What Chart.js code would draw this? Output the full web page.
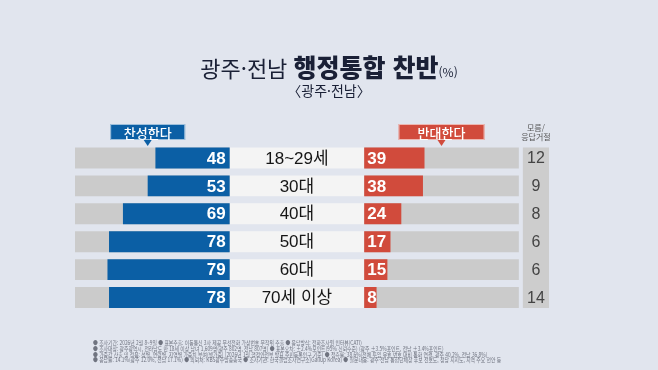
<!DOCTYPE html>
<html lang="ko">
<head>
<meta charset="UTF-8">
<title>광주·전남 행정통합 찬반</title>
<script src="https://cdn.jsdelivr.net/npm/chart.js"></script>
<style>
    body { margin: 0; background: #e1e5ee; font-family: "Noto Sans CJK KR", sans-serif; }
    #wrap { position: relative; width: 658px; height: 370px; overflow: hidden; }
    #chart { position: absolute; left: 0; top: 0; }

    /* 제목 */
    .title { position: absolute; left: 0; top: 53px; width: 658px; text-align: center;
             color: #1a2036; font-size: 22px; line-height: 26px; white-space: nowrap; }
    .title b { font-size: 25px; font-weight: 900; }
    .title small { font-size: 12px; }
    .sub { position: absolute; left: 0; top: 82px; width: 658px; text-align: center;
           color: #1a2036; font-size: 14px; line-height: 16px; }

    /* 하단 조사개요 */
    .note { position: absolute; left: 93px; top: 340px; color: #707480;
            font-size: 5.8px; line-height: 5.8px; white-space: nowrap;
            transform: scaleX(0.83); transform-origin: left top; }
</style>
</head>
<body>
<div id="wrap">
    <canvas id="chart" width="658" height="370"></canvas>
    <div class="title">광주·전남 <b>행정통합 찬반</b><small>(%)</small></div>
    <div class="sub">〈광주·전남〉</div>
    <div class="note">
        ● 조사기간: 2026년 2월 8~9일 ● 표본추출: 이동통신 3사 제공 무선전화 가상번호 무작위 추출 ● 응답방식: 전화조사원 인터뷰(CATI)<br>
        ● 조사대상: 광주광역시, 전라남도 만 18세 이상 남녀 1,609명(광주 802명, 전남 807명) ● 표본오차: ±2.4%포인트(95% 신뢰수준) (광주 ±3.5%포인트, 전남 ±3.4%포인트)<br>
        ● 가중값 산출 및 적용: 성별, 연령별, 지역별 가중치 부여(셀가중) (2026년 1월 행정안전부 발표 주민등록인구 기준) ● 접촉률: 38.6%(전체 투입 유효 번호 대비 통화 연결, 광주 40.2%, 전남 36.8%)<br>
        ● 응답률: 14.1%(광주 12.0%, 전남 17.1%) ● 의뢰처: KBS광주방송총국 ● 조사기관: 한국갤럽조사연구소(Gallup Korea) ● 질문내용: 광주·전남 통합단체장 후보 선호도, 정당 지지도, 지역 주요 현안 등
    </div>
</div>

<script>
    // 데이터
    const ageGroups = ['18~29세', '30대', '40대', '50대', '60대', '70세 이상'];
    const favor = [48, 53, 69, 78, 79, 78];     // 찬성한다
    const oppose = [39, 38, 24, 17, 15, 8];     // 반대한다
    const unsure = [12, 9, 8, 6, 6, 14];        // 모름/응답거절

    const FULL = 100;   // 막대 트랙 길이 (100%)
    const MID = 87;     // 가운데 연령 라벨 칸 폭 (축 단위)
    const COL0 = FULL + MID + 2.6, COL1 = FULL + MID + 19.5;  // 모름 칸

    const BLUE = '#0b5fa5', RED = '#d14b3c', TRACK = '#cbcbcb';
    const NUM_FONT = '"Liberation Sans", Arial, sans-serif';
    const KR_FONT = '"Noto Sans CJK KR", sans-serif';

    // 라벨, 모름 칸, 범례 박스 그리기
    const overlay = {
        id: 'overlay',
        beforeDatasetsDraw(chart) {
            const ctx = chart.ctx, x = chart.scales.x;
            const bars = chart.getDatasetMeta(0).data;
            const first = bars[0], last = bars[bars.length - 1];
            const top = first.y - first.height / 2, bottom = last.y + last.height / 2;
            ctx.save();
            ctx.fillStyle = '#cdcdcd';
            ctx.fillRect(x.getPixelForValue(COL0), top,
                x.getPixelForValue(COL1) - x.getPixelForValue(COL0), bottom - top);
            ctx.restore();
        },
        afterDatasetsDraw(chart) {
            const ctx = chart.ctx, x = chart.scales.x;
            const bars = chart.getDatasetMeta(0).data;
            ctx.save();
            ctx.textBaseline = 'middle';
            bars.forEach((bar, i) => {
                const y = bar.y + 1;
                ctx.fillStyle = '#fff';
                ctx.font = 'bold 17px ' + NUM_FONT;
                ctx.textAlign = 'right';
                ctx.fillText(favor[i], x.getPixelForValue(0) - 4, y);
                ctx.textAlign = 'left';
                ctx.fillText(oppose[i], x.getPixelForValue(MID) + 3, y);

                ctx.fillStyle = '#151515';
                ctx.font = '17px ' + NUM_FONT + ', ' + KR_FONT;
                ctx.textAlign = 'center';
                ctx.fillText(ageGroups[i], x.getPixelForValue(MID / 2), y);

                ctx.fillStyle = '#444';
                ctx.font = '16px ' + NUM_FONT;
                ctx.fillText(unsure[i], x.getPixelForValue((COL0 + COL1) / 2), y);
            });

            // 모름/응답거절 헤더
            const cx = x.getPixelForValue((COL0 + COL1) / 2);
            ctx.fillStyle = '#555';
            ctx.font = '8px ' + KR_FONT;
            ctx.fillText('모름/', cx, 128);
            ctx.fillText('응답거절', cx, 137);

            // 범례 박스
            const tag = (text, cxv, w, color) => {
                const cxp = x.getPixelForValue(cxv);
                const t = 124, h = 16;
                ctx.fillStyle = color;
                ctx.fillRect(cxp - w / 2, t, w, h);
                ctx.beginPath();
                ctx.moveTo(cxp - 4, t + h);
                ctx.lineTo(cxp + 4, t + h);
                ctx.lineTo(cxp, t + h + 6);
                ctx.closePath();
                ctx.fill();
                ctx.strokeStyle = 'rgba(255,255,255,0.6)';
                ctx.lineWidth = 1;
                ctx.strokeRect(cxp - w / 2 + 0.5, t + 0.5, w - 1, h - 1);
                ctx.fillStyle = '#fff';
                ctx.font = '500 13px ' + KR_FONT;
                ctx.textAlign = 'center';
                ctx.fillText(text, cxp, t + h / 2 + 1);
            };
            tag('찬성한다', -53, 75, BLUE);
            tag('반대한다', MID + 50, 86, RED);
            ctx.restore();
        }
    };

    const chart = new Chart(document.getElementById('chart'), {
        type: 'bar',
        data: {
            labels: ageGroups,
            datasets: [
                { label: '찬성한다', data: favor.map(v => [-v, 0]), backgroundColor: BLUE, order: 0 },
                { label: '반대한다', data: oppose.map(v => [MID, MID + v]), backgroundColor: RED, order: 1 },
                { label: 'left', data: ageGroups.map(() => [-FULL, 0]), backgroundColor: TRACK, order: 5 },
                { label: 'mid', data: ageGroups.map(() => [0, MID]), backgroundColor: '#f4f4f4', order: 5 },
                { label: 'right', data: ageGroups.map(() => [MID, MID + FULL]), backgroundColor: TRACK, order: 5 }
            ]
        },
        options: {
            indexAxis: 'y',
            responsive: false,
            animation: false,
            devicePixelRatio: 1,
            layout: { padding: { left: 75, right: 109, top: 144, bottom: 58.5 } },
            datasets: { bar: { grouped: false, categoryPercentage: 1, barPercentage: 0.75 } },
            scales: {
                x: { display: false, min: -FULL, max: COL1 },
                y: { display: false }
            },
            plugins: { legend: { display: false }, tooltip: { enabled: false } }
        },
        plugins: [overlay]
    });
</script>
</body>
</html>
